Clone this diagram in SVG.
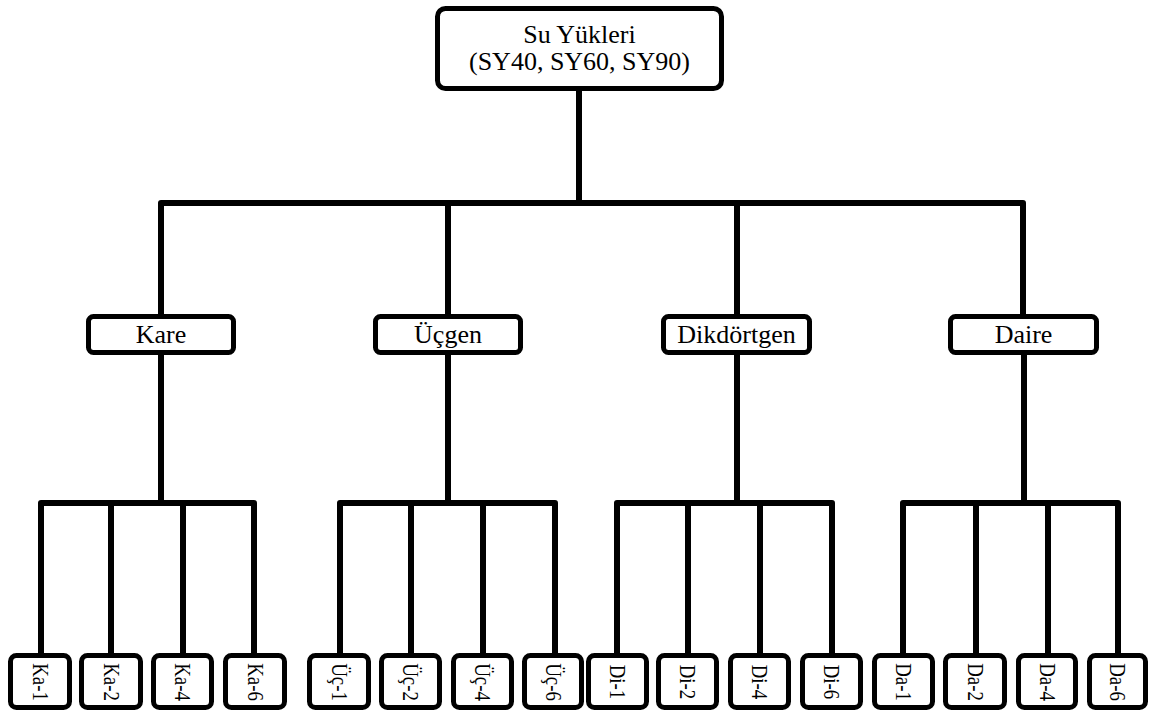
<svg xmlns="http://www.w3.org/2000/svg" width="1156" height="713" viewBox="0 0 1156 713">
<style>
.box{fill:#fff;stroke:#000;stroke-width:5}
text{font-family:'Liberation Serif','Tinos','DejaVu Serif',serif;fill:#000;text-anchor:middle}
.t{font-size:26px}
.lt{font-size:23px}
.c{fill:none;stroke:#000;stroke-width:6;stroke-linejoin:round}
</style>
<rect width="1156" height="713" fill="#fff"/>
<g id="connectors" class="c">
<path d="M579,91 V203"/>
<path d="M161,314 V203 H1023 V314"/>
<path d="M448,203 V314"/>
<path d="M737,203 V314"/>
<path d="M161,355 V503"/><path d="M41,653 V503 H254 V653"/><path d="M111,503 V653"/><path d="M183,503 V653"/>
<path d="M448,355 V503"/><path d="M340,653 V503 H555 V653"/><path d="M411,503 V653"/><path d="M483,503 V653"/>
<path d="M737,355 V503"/><path d="M617,653 V503 H832 V653"/><path d="M688,503 V653"/><path d="M760,503 V653"/>
<path d="M1024,355 V503"/><path d="M903,653 V503 H1118 V653"/><path d="M976,503 V653"/><path d="M1048,503 V653"/>
</g>
<g id="root"><rect class="box" x="437.5" y="8.5" width="284" height="80" rx="8"/><text class="t" font-family="Liberation Serif, serif" x="579.5" y="43">Su Yükleri</text><text class="t" font-family="Liberation Serif, serif" x="579.5" y="70">(SY40, SY60, SY90)</text></g>
<g id="kare"><rect class="box" x="88.5" y="316.5" width="145" height="36" rx="5"/><text class="t" x="161" y="343">Kare</text></g>
<g id="ucgen"><rect class="box" x="375.5" y="316.5" width="145" height="36" rx="5"/><text class="t" x="448" y="343">Üçgen</text></g>
<g id="dikdortgen"><rect class="box" x="663.5" y="316.5" width="146" height="36" rx="5"/><text class="t" x="736.5" y="343">Dikdörtgen</text></g>
<g id="daire"><rect class="box" x="950.5" y="316.5" width="146" height="36" rx="5"/><text class="t" x="1023.5" y="343">Daire</text></g>
<g id="ka1"><rect class="box" x="10.5" y="655.5" width="59" height="52" rx="6"/><text class="lt" transform="translate(32.5,682) rotate(90) scale(0.82,1)">Ka-1</text></g>
<g id="ka2"><rect class="box" x="81.5" y="655.5" width="59" height="52" rx="6"/><text class="lt" transform="translate(103.5,682) rotate(90) scale(0.82,1)">Ka-2</text></g>
<g id="ka4"><rect class="box" x="153.5" y="655.5" width="58" height="52" rx="6"/><text class="lt" transform="translate(175,682) rotate(90) scale(0.82,1)">Ka-4</text></g>
<g id="ka6"><rect class="box" x="225.5" y="655.5" width="59" height="52" rx="6"/><text class="lt" transform="translate(247.5,682) rotate(90) scale(0.82,1)">Ka-6</text></g>
<g id="uc1"><rect class="box" x="309.5" y="655.5" width="59" height="52" rx="6"/><text class="lt" transform="translate(331.5,682) rotate(90) scale(0.82,1)">Üç-1</text></g>
<g id="uc2"><rect class="box" x="381.5" y="655.5" width="58" height="52" rx="6"/><text class="lt" transform="translate(403,682) rotate(90) scale(0.82,1)">Üç-2</text></g>
<g id="uc4"><rect class="box" x="453.5" y="655.5" width="58" height="52" rx="6"/><text class="lt" transform="translate(475,682) rotate(90) scale(0.82,1)">Üç-4</text></g>
<g id="uc6"><rect class="box" x="524.5" y="655.5" width="57" height="52" rx="6"/><text class="lt" transform="translate(545.5,682) rotate(90) scale(0.82,1)">Üç-6</text></g>
<g id="di1"><rect class="box" x="588.5" y="655.5" width="58" height="52" rx="6"/><text class="lt" transform="translate(610,682) rotate(90) scale(0.82,1)">Di-1</text></g>
<g id="di2"><rect class="box" x="658.5" y="655.5" width="58" height="52" rx="6"/><text class="lt" transform="translate(680,682) rotate(90) scale(0.82,1)">Di-2</text></g>
<g id="di4"><rect class="box" x="730.5" y="655.5" width="58" height="52" rx="6"/><text class="lt" transform="translate(752,682) rotate(90) scale(0.82,1)">Di-4</text></g>
<g id="di6"><rect class="box" x="802.5" y="655.5" width="58" height="52" rx="6"/><text class="lt" transform="translate(824,682) rotate(90) scale(0.82,1)">Di-6</text></g>
<g id="da1"><rect class="box" x="874.5" y="655.5" width="58" height="52" rx="6"/><text class="lt" transform="translate(896,682) rotate(90) scale(0.82,1)">Da-1</text></g>
<g id="da2"><rect class="box" x="945.5" y="655.5" width="59" height="52" rx="6"/><text class="lt" transform="translate(967.5,682) rotate(90) scale(0.82,1)">Da-2</text></g>
<g id="da4"><rect class="box" x="1018.5" y="655.5" width="57" height="52" rx="6"/><text class="lt" transform="translate(1039.5,682) rotate(90) scale(0.82,1)">Da-4</text></g>
<g id="da6"><rect class="box" x="1089.5" y="655.5" width="56" height="52" rx="6"/><text class="lt" transform="translate(1110,682) rotate(90) scale(0.82,1)">Da-6</text></g>
</svg>
